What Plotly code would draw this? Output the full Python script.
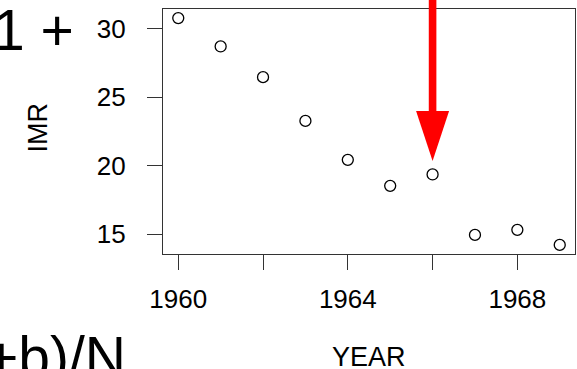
import plotly.graph_objects as go

# Data
years = [1960, 1961, 1962, 1963, 1964, 1965, 1966, 1967, 1968, 1969]
imr = [30.78, 28.71, 26.47, 23.28, 20.44, 18.54, 19.37, 14.96, 15.33, 14.23]
x_ticks = [1960, 1962, 1964, 1966, 1968]
x_ticklabels = ["1960", "", "1964", "", "1968"]
y_ticks = [15, 20, 25, 30]
arrow_year = 1966
arrow_tip = 20.35
top_text = "1 +"
bottom_text = "+b)/N"
x_title = "YEAR"
y_title = "IMR"

# R-style 4% axis extension
def r_range(vals):
    lo, hi = min(vals), max(vals)
    pad = (hi - lo) * 0.04
    return [lo - pad, hi + pad]

xr = r_range(years)
yr = r_range(imr)

FONT = "Liberation Sans, Arial, sans-serif"
W, H = 577, 369
L, R, T, B = 163, 2, 9, 115
pw = W - L - R
ph = H - T - B

def px(x):
    return (x - L) / pw

def py(y):
    return (H - B - y) / ph

fig = go.Figure()
fig.add_trace(go.Scatter(
    x=years, y=imr, mode="markers",
    marker=dict(symbol="circle-open", size=11, color="black", line=dict(width=1.3, color="black")),
    showlegend=False, hoverinfo="skip",
))

axis_common = dict(
    showgrid=False, zeroline=False, showline=True, mirror=True,
    linecolor="#333", linewidth=1.2,
    ticks="outside", ticklen=15, tickwidth=1.2, tickcolor="#333",
    tickfont=dict(family=FONT, size=26, color="black"),
)

fig.update_layout(
    width=W, height=H,
    margin=dict(l=L, r=R, t=T, b=B, autoexpand=False),
    paper_bgcolor="white", plot_bgcolor="white",
    xaxis=dict(range=xr, tickmode="array", tickvals=x_ticks, ticktext=x_ticklabels,
               ticklabelstandoff=7, **axis_common),
    yaxis=dict(range=yr, tickmode="array", tickvals=y_ticks,
               ticklabelstandoff=16, **axis_common),
)

# Axis titles
fig.add_annotation(text=x_title, xref="paper", yref="paper", x=0.5, y=py(357),
                   xanchor="center", yanchor="middle", showarrow=False,
                   font=dict(family=FONT, size=27, color="black"))
fig.add_annotation(text=y_title, xref="paper", yref="paper", x=px(37.5), y=py(128),
                   xanchor="center", yanchor="middle", textangle=-90, showarrow=False,
                   font=dict(family=FONT, size=27, color="black"))

# Red arrow: shaft (annotation line) + head (pixel-sized path anchored at data point)
head_len = 50
head_half = 16.5
fig.add_annotation(
    x=arrow_year, y=arrow_tip, xref="x", yref="y",
    ax=0, ay=-(head_len + 120), axref="pixel", ayref="pixel",
    yshift=head_len - 2,
    text="", showarrow=True, arrowhead=0, arrowwidth=7.6, arrowcolor="#ff0000",
    standoff=0, startstandoff=0,
)
fig.add_shape(
    type="path", xref="x", yref="y", xsizemode="pixel", ysizemode="pixel",
    xanchor=arrow_year, yanchor=arrow_tip,
    path=f"M {-head_half},{head_len} L {head_half},{head_len} L 0,0 Z",
    fillcolor="#ff0000", line=dict(width=0), layer="above",
)

# Cropped slide text
fig.add_annotation(
    text=top_text, xref="paper", yref="paper",
    x=px(76), y=py(-4),
    xanchor="right", yanchor="top", showarrow=False,
    font=dict(family=FONT, size=57, color="black"),
)
fig.add_annotation(
    text=bottom_text, xref="paper", yref="paper",
    x=px(128), y=py(323),
    xanchor="right", yanchor="top", showarrow=False,
    font=dict(family=FONT, size=57, color="black"),
)

fig.write_html(
    "out.html",
    config={"displayModeBar": False},
    post_script="document.body.style.margin='0';document.body.style.overflow='hidden';",
)
